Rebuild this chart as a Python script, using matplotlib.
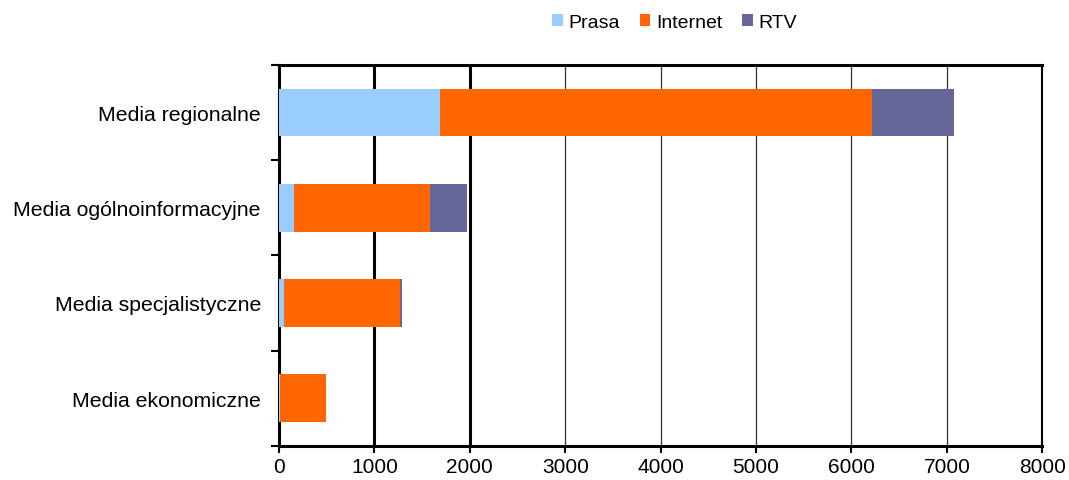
import matplotlib.pyplot as plt
import numpy as np

plt.rcParams['font.family'] = ['Liberation Sans', 'DejaVu Sans']

categories = ['Media regionalne', 'Media ogólnoinformacyjne',
              'Media specjalistyczne', 'Media ekonomiczne']
prasa = [1690, 157, 52, 15]
internet = [4525, 1426, 1216, 478]
rtv = [860, 388, 21, 0]
series = ['Prasa', 'Internet', 'RTV']
colors = ['#99CCFF', '#FF6600', '#666699']

fig = plt.figure(figsize=(10.69, 4.81), dpi=100)
ax = fig.add_axes([0.261, 0.071, 0.714, 0.792])

y = np.arange(len(categories))
left = np.zeros(len(categories))
for name, vals, col in zip(series, [prasa, internet, rtv], colors):
    ax.barh(y, vals, left=left, height=0.5, color=col, label=name, zorder=3)
    left += np.array(vals)

ax.set_ylim(len(categories) - 0.5, -0.5)
ax.set_xlim(0, 8000)
ax.set_xticks(range(0, 8001, 1000))
ax.set_yticks(y)
ax.set_yticklabels(categories)
ax.tick_params(axis='y', length=0, pad=13, labelsize=15.3)
ax.tick_params(axis='x', length=5, width=1.5, labelsize=15, pad=3)
ax.set_yticks(np.arange(-0.5, len(categories), 1), minor=True)
ax.tick_params(axis='y', which='minor', length=6, width=1.5)

# 1000 and 2000 drawn heavier, the rest thin
for xv in range(1000, 8000, 1000):
    if xv <= 2000:
        ax.axvline(xv, color='black', lw=2.2, zorder=1)
    else:
        ax.axvline(xv, color='#333333', lw=0.9, zorder=1)

for s in ax.spines.values():
    s.set_linewidth(2.2)
    s.set_color('black')
ax.spines['right'].set_linewidth(1.5)

fig.legend(loc='upper center', bbox_to_anchor=(0.631, 1.005), ncol=3, frameon=False,
           fontsize=14, handlelength=0.55, handleheight=0.55, handletextpad=0.3,
           columnspacing=1.0)

fig.savefig('out.png', dpi=100)
